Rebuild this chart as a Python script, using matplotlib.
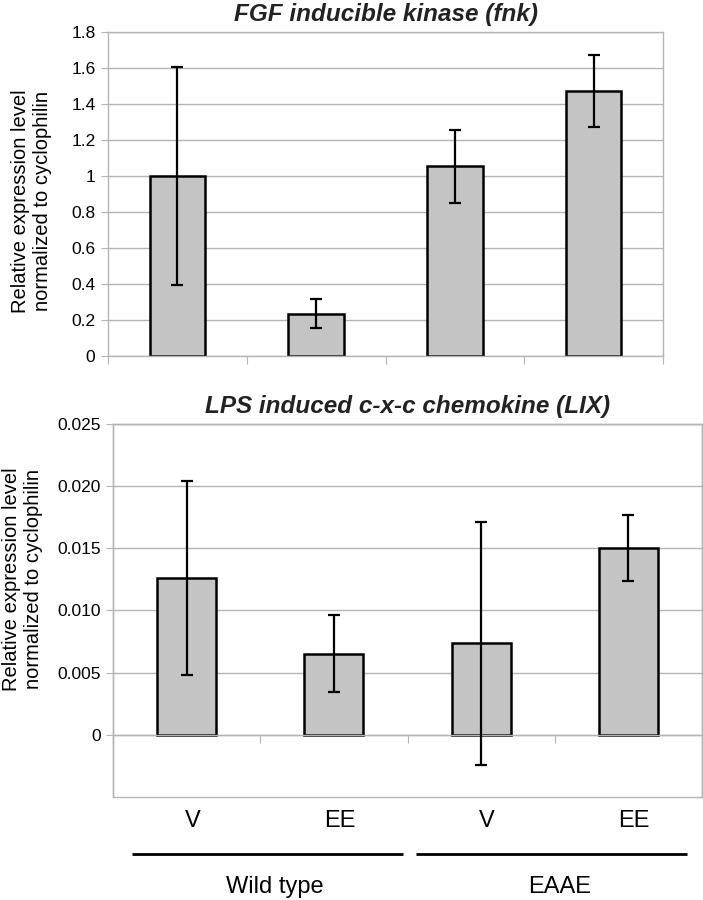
import matplotlib.pyplot as plt
import matplotlib.transforms as mtransforms
from matplotlib.patches import Rectangle
import numpy as np

plt.rcParams['font.family'] = ['Liberation Sans', 'DejaVu Sans']

categories = ['V', 'EE', 'V', 'EE']
groups = ['Wild type', 'EAAE']

fnk_mean = [1.0, 0.235, 1.053, 1.474]
fnk_err = [0.604, 0.081, 0.201, 0.200]
fnk_ticks = [0, 0.2, 0.4, 0.6, 0.8, 1.0, 1.2, 1.4, 1.6, 1.8]
fnk_ticklabels = ['0', '0.2', '0.4', '0.6', '0.8', '1', '1.2', '1.4', '1.6', '1.8']

lix_mean = [0.0126, 0.00653, 0.00736, 0.0150]
lix_err = [0.0078, 0.00312, 0.00975, 0.00266]
lix_ticks = [0, 0.005, 0.010, 0.015, 0.020, 0.025]
lix_ticklabels = ['0', '0.005', '0.010', '0.015', '0.020', '0.025']

grid_col = '#b4b4b4'
bar_col = '#c4c4c4'
ylab = 'Relative expression level\nnormalized to cyclophilin'


def style_axes(ax, ticks, ticklabels, ylim):
    x = np.arange(len(categories))
    ax.set_xlim(-0.5, len(categories) - 0.5)
    ax.set_ylim(*ylim)
    ax.set_yticks(ticks)
    ax.set_yticklabels(ticklabels, fontsize=12.5)
    ax.set_xticks(np.arange(len(categories) + 1) - 0.5)
    ax.set_xticklabels([])
    ax.tick_params(axis='y', length=5, color=grid_col, pad=4)
    ax.tick_params(axis='x', length=6, color=grid_col)
    ax.yaxis.grid(True, color=grid_col, linewidth=1)
    ax.set_axisbelow(True)
    for s in ax.spines.values():
        s.set_color(grid_col)
        s.set_linewidth(1)
    return x


fig = plt.figure(figsize=(7.03, 9.0), dpi=100)

# top panel: fnk
ax1 = fig.add_axes([108 / 703, 1 - 356 / 900, 555 / 703, 324 / 900])
x = style_axes(ax1, fnk_ticks, fnk_ticklabels, (0, 1.8))
ax1.bar(x, fnk_mean, width=0.4, color=bar_col, edgecolor='black', linewidth=1.8, zorder=2)
ax1.errorbar(x, fnk_mean, yerr=fnk_err, fmt='none', ecolor='black', elinewidth=1.6,
             capsize=4.5, capthick=1.6, zorder=3)
ax1.set_title('FGF inducible kinase (fnk)', fontsize=17.5, fontweight='bold',
              fontstyle='italic', color='#222222', pad=8)
fig.text(32 / 703, 1 - 201 / 900, ylab, rotation=90, ha='center', va='center',
         fontsize=14.5, multialignment='center')

# bottom panel: LIX
ax2 = fig.add_axes([113 / 703, 1 - 797 / 900, 589 / 703, 373 / 900])
x = style_axes(ax2, lix_ticks, lix_ticklabels, (-0.005, 0.025))
ax2.spines['bottom'].set_position(('data', 0))
ax2.add_patch(Rectangle((0, 0), 1, 1, transform=ax2.transAxes, fill=False,
                        edgecolor=grid_col, linewidth=1, clip_on=False, zorder=1))
ax2.bar(x, lix_mean, width=0.4, color=bar_col, edgecolor='black', linewidth=1.8, zorder=2)
ax2.errorbar(x, lix_mean, yerr=lix_err, fmt='none', ecolor='black', elinewidth=1.6,
             capsize=4.5, capthick=1.6, zorder=3)
ax2.set_title('LPS induced c-x-c chemokine (LIX)', fontsize=17.5, fontweight='bold',
              fontstyle='italic', color='#222222', pad=8)
fig.text(23 / 703, 1 - 579 / 900, ylab, rotation=90, ha='center', va='center',
         fontsize=14.5, multialignment='center')

# category labels and group brackets under the bottom panel
trans = mtransforms.blended_transform_factory(ax2.transData, ax2.transAxes)
for i, lab in enumerate(categories):
    ax2.text(x[i] + 0.04, -0.065, lab, transform=trans, ha='center', va='center',
             fontsize=17)
spans = [(-0.37, 1.47), (1.56, 3.40)]
for (a, b), g in zip(spans, groups):
    ax2.plot([a, b], [-0.153, -0.153], transform=trans, color='black', linewidth=2,
             clip_on=False, solid_capstyle='butt')
    ax2.text((a + b) / 2 + 0.05, -0.24, g, transform=trans, ha='center', va='center',
             fontsize=17)

fig.savefig('out.png', dpi=100, facecolor='white')
